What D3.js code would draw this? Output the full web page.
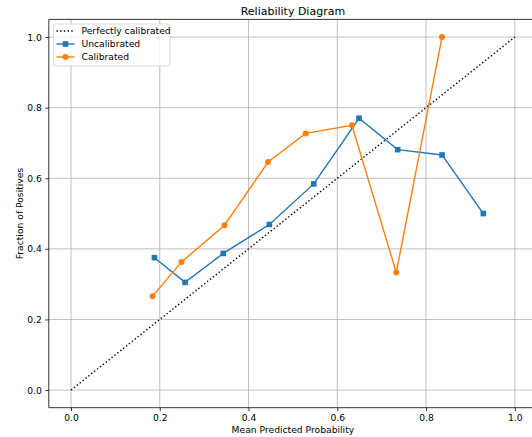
<!DOCTYPE html>
<html><head><meta charset="utf-8">
<script src="https://cdn.jsdelivr.net/npm/d3@7"></script>
<style>html,body{margin:0;padding:0;background:#fff;overflow:hidden}svg{display:block}</style>
</head><body><svg id="c" width="532" height="437"></svg>
<script>
const title = "Reliability Diagram";
const xLabel = "Mean Predicted Probability";
const yLabel = "Fraction of Positives";
const ticks = [0.0, 0.2, 0.4, 0.6, 0.8, 1.0];
const perfectX = [0, 1];
const perfectY = [0, 1];
const uncalX = [0.188, 0.257, 0.343, 0.447, 0.547, 0.649, 0.736, 0.836, 0.929];
const uncalY = [0.375, 0.305, 0.387, 0.469, 0.584, 0.770, 0.681, 0.666, 0.500];
const calX = [0.184, 0.249, 0.346, 0.444, 0.529, 0.633, 0.733, 0.836];
const calY = [0.266, 0.363, 0.467, 0.646, 0.727, 0.750, 0.333, 1.000];
const seriesNames = ["Perfectly calibrated", "Uncalibrated", "Calibrated"];
const colors = ["#000000", "#1f77b4", "#ff7f0e"];

const svg = d3.select("#c");
const font = "DejaVu Sans, sans-serif";
const L = 48.8, R = 537, T = 19.4, B = 407.7;
const x = d3.scaleLinear().domain([-0.05, 1.05]).range([L, R]);
const y = d3.scaleLinear().domain([-0.05, 1.05]).range([B, T]);

// grid
const g = svg.append("g");
g.selectAll(".gx").data(ticks).enter().append("line")
  .attr("x1", d => x(d)).attr("x2", d => x(d)).attr("y1", T).attr("y2", B)
  .attr("stroke", "#b0b0b0").attr("stroke-width", 0.8);
g.selectAll(".gy").data(ticks).enter().append("line")
  .attr("y1", d => y(d)).attr("y2", d => y(d)).attr("x1", L).attr("x2", R)
  .attr("stroke", "#b0b0b0").attr("stroke-width", 0.8);

// axes
const xAxis = d3.axisBottom(x).tickValues(ticks).tickFormat(d3.format(".1f")).tickSize(3.5).tickPadding(3.5);
const yAxis = d3.axisLeft(y).tickValues(ticks).tickFormat(d3.format(".1f")).tickSize(3.5).tickPadding(3.5);
const ax = svg.append("g").attr("transform", `translate(0,${B})`).call(xAxis);
const ay = svg.append("g").attr("transform", `translate(${L},0)`).call(yAxis);
[ax, ay].forEach(a => {
  a.select(".domain").remove();
  a.selectAll("text").attr("font-family", font).attr("font-size", 9.2).attr("fill", "#000");
  a.selectAll("line").attr("stroke", "#000").attr("stroke-width", 0.8);
});

const clip = svg.append("clipPath").attr("id", "clp").append("rect")
  .attr("x", L).attr("y", T).attr("width", R - L).attr("height", B - T);
const plot = svg.append("g").attr("clip-path", "url(#clp)");

const line = d3.line().x(d => x(d[0])).y(d => y(d[1]));
plot.append("path").datum(d3.zip(perfectX, perfectY)).attr("d", line)
  .attr("fill", "none").attr("stroke", colors[0]).attr("stroke-width", 1.4).attr("stroke-dasharray", "1.4,2.3");

const uncal = d3.zip(uncalX, uncalY);
plot.append("path").datum(uncal).attr("d", line).attr("fill", "none").attr("stroke", colors[1]).attr("stroke-width", 1.4);
plot.selectAll(".sq").data(uncal).enter().append("rect")
  .attr("x", d => x(d[0]) - 2.8).attr("y", d => y(d[1]) - 2.8).attr("width", 5.6).attr("height", 5.6)
  .attr("fill", colors[1]);

const cal = d3.zip(calX, calY);
plot.append("path").datum(cal).attr("d", line).attr("fill", "none").attr("stroke", colors[2]).attr("stroke-width", 1.4);
plot.selectAll(".ci").data(cal).enter().append("circle")
  .attr("cx", d => x(d[0])).attr("cy", d => y(d[1])).attr("r", 3)
  .attr("fill", colors[2]);

// spines
svg.append("line").attr("x1", L).attr("x2", L).attr("y1", T).attr("y2", B).attr("stroke", "#000").attr("stroke-width", 0.8);
svg.append("line").attr("x1", L).attr("x2", R).attr("y1", B).attr("y2", B).attr("stroke", "#000").attr("stroke-width", 0.8);
svg.append("line").attr("x1", L).attr("x2", R).attr("y1", T).attr("y2", T).attr("stroke", "#000").attr("stroke-width", 0.8);
svg.append("line").attr("x1", R).attr("x2", R).attr("y1", T).attr("y2", B).attr("stroke", "#000").attr("stroke-width", 0.8);

// labels
svg.append("text").attr("x", (L + R) / 2).attr("y", 15).attr("text-anchor", "middle")
  .attr("font-family", font).attr("font-size", 11).text(title);
svg.append("text").attr("x", (L + R) / 2).attr("y", 433).attr("text-anchor", "middle")
  .attr("font-family", font).attr("font-size", 9.2).text(xLabel);
svg.append("text").attr("transform", `translate(23,${(T + B) / 2}) rotate(-90)`).attr("text-anchor", "middle")
  .attr("font-family", font).attr("font-size", 9.2).text(yLabel);

// legend
const lg = svg.append("g");
lg.append("rect").attr("x", 53.5).attr("y", 24).attr("width", 116.5).attr("height", 42)
  .attr("rx", 2).attr("fill", "#fff").attr("fill-opacity", 0.8).attr("stroke", "#d0d0d0").attr("stroke-width", 0.8);
seriesNames.forEach((name, i) => {
  const yy = 31 + i * 13;
  const ln = lg.append("line").attr("x1", 56.5).attr("x2", 74.5).attr("y1", yy).attr("y2", yy)
    .attr("stroke", colors[i]).attr("stroke-width", 1.4);
  if (i === 0) ln.attr("stroke-dasharray", "1.4,2.3");
  if (i === 1) lg.append("rect").attr("x", 65.5 - 2.8).attr("y", yy - 2.8).attr("width", 5.6).attr("height", 5.6).attr("fill", colors[1]);
  if (i === 2) lg.append("circle").attr("cx", 65.5).attr("cy", yy).attr("r", 3).attr("fill", colors[2]);
  lg.append("text").attr("x", 81.5).attr("y", yy + 3.3).attr("font-family", font).attr("font-size", 9.2).text(name);
});
</script></body></html>
